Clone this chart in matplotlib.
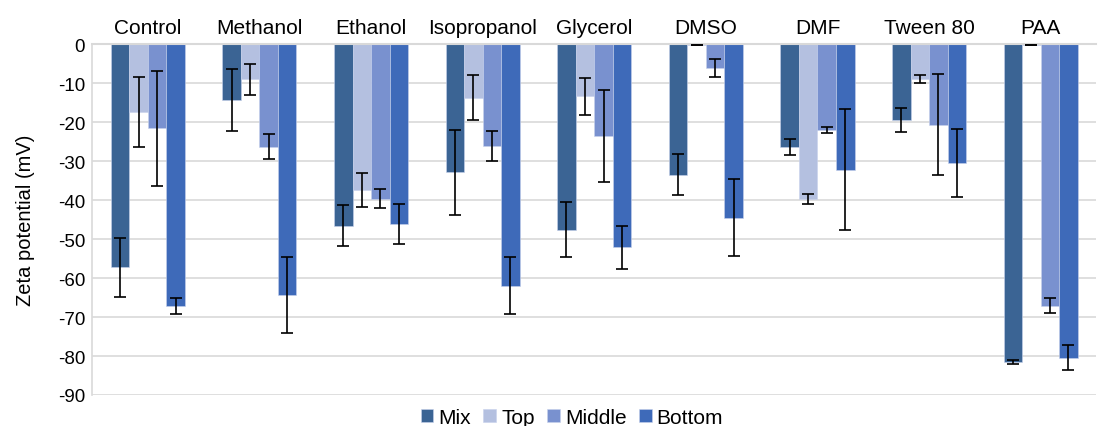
import matplotlib.pyplot as plt
import numpy as np

plt.rcParams['font.family'] = ['Liberation Sans', 'DejaVu Sans']
plt.rcParams['axes.unicode_minus'] = False

# Data
solvents = ['Control', 'Methanol', 'Ethanol', 'Isopropanol', 'Glycerol',
            'DMSO', 'DMF', 'Tween 80', 'PAA']
series = ['Mix', 'Top', 'Middle', 'Bottom']

mix = [-57.3, -14.4, -46.6, -32.9, -47.6, -33.5, -26.4, -19.5, -81.5]
top = [-17.5, -9.0, -37.4, -13.8, -13.4, -0.3, -39.7, -9.0, -0.3]
middle = [-21.6, -26.4, -39.7, -26.1, -23.7, -6.2, -22.0, -20.7, -67.1]
bottom = [-67.1, -64.4, -46.2, -62.0, -52.1, -44.5, -32.2, -30.5, -80.4]

mix_err = [7.6, 8.0, 5.2, 10.9, 7.0, 5.2, 2.0, 3.0, 0.6]
top_err = [9.0, 4.0, 4.4, 5.8, 4.7, 0.0, 1.3, 1.1, 0.0]
middle_err = [14.7, 3.2, 2.4, 3.8, 11.8, 2.3, 0.7, 13.0, 2.0]
bottom_err = [2.1, 9.8, 5.1, 7.3, 5.5, 9.8, 15.5, 8.8, 3.1]

colors = ['#3b6494', '#b4c0e0', '#7991cf', '#3e6ab9']

fig = plt.figure(figsize=(11.02, 4.27), dpi=100)
ax = fig.add_axes([0.0835, 0.0726, 0.9115, 0.822])

x = np.arange(len(solvents))
width = 0.166
values = [mix, top, middle, bottom]
errors = [mix_err, top_err, middle_err, bottom_err]

for i, (name, vals, errs, c) in enumerate(zip(series, values, errors, colors)):
    offset = (i - 1.5) * width
    ax.bar(x + offset, vals, width, color=c, label=name, zorder=2,
           edgecolor='#c8d2ec', linewidth=0.4)
    ax.errorbar(x + offset, vals, yerr=errs, fmt='none', ecolor='black',
                elinewidth=1.2, capsize=4.5, capthick=1.2, zorder=3)

ax.set_xlim(-0.5, len(solvents) - 0.5)
ax.set_ylim(-90, 0)
ax.set_yticks(np.arange(-90, 1, 10))
ax.tick_params(axis='y', length=0, labelsize=13.5, pad=5)

ax.xaxis.tick_top()
ax.set_xticks(x)
ax.set_xticklabels(solvents, fontsize=15)
ax.tick_params(axis='x', length=0, pad=5)

ax.set_ylabel('Zeta potential (mV)', fontsize=14.5, labelpad=16)

ax.grid(True, axis='y', color='#d9d9d9', linewidth=1.2, zorder=0)
ax.set_axisbelow(True)
for side in ['right', 'bottom']:
    ax.spines[side].set_visible(False)
ax.spines['top'].set_color('#d9d9d9')
ax.spines['top'].set_linewidth(1.5)
ax.spines['left'].set_color('#d9d9d9')
ax.spines['left'].set_linewidth(1.2)

fig.legend(*ax.get_legend_handles_labels(), loc='lower center',
           bbox_to_anchor=(0.519, -0.022), ncol=4, frameon=False,
           fontsize=15, handlelength=0.6, handleheight=0.6,
           handletextpad=0.25, columnspacing=0.6, borderaxespad=0)

plt.savefig('out.png', dpi=100, facecolor='white')
plt.close()
